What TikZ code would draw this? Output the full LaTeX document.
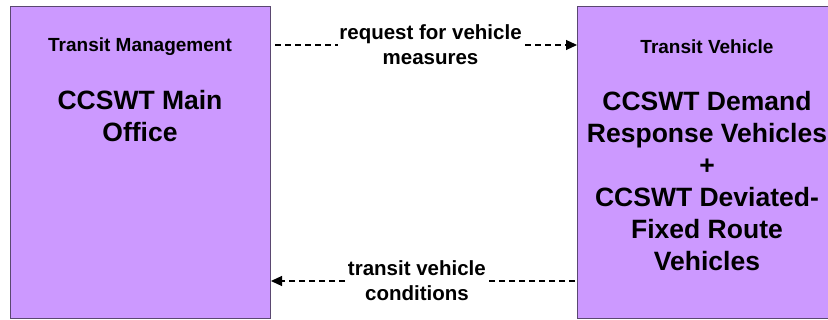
\documentclass[tikz,border=0pt]{standalone}
\usepackage{fontspec}
\setmainfont{Liberation Sans}
\usetikzlibrary{arrows.meta}
\definecolor{boxfill}{HTML}{CC99FF}
\definecolor{boxline}{HTML}{5A4870}
\tikzset{
  sysbox/.style={draw=boxline, line width=1pt, fill=boxfill, inner sep=0pt, anchor=north west},
  small/.style={font=\bfseries\fontsize{19}{22}\selectfont, align=center, inner sep=0pt},
  big/.style={font=\bfseries\fontsize{26.5}{32}\selectfont, align=center, inner sep=0pt},
  flowlbl/.style={font=\bfseries\fontsize{20.5}{25}\selectfont, align=center, fill=white, inner sep=1.5pt},
  flow/.style={dashed, dash pattern=on 6pt off 4pt, line width=1.1pt, -{Triangle[length=11pt,width=10pt]}}
}
\begin{document}
\begin{tikzpicture}[x=1pt,y=-1pt]
\useasboundingbox (0,0) rectangle (828,320);
\clip (0,0) rectangle (828,320);
\node[sysbox, minimum width=260pt, minimum height=312pt] (L) at (10,6) {};
\node[sysbox, minimum width=262pt, minimum height=312pt] (R) at (577,6) {};
\node[small] (Lt) at (140,47) {Transit Management};
\node[big] (Lm) at (140,116) {CCSWT Main\\Office};
\node[small] (Rt) at (707,47) {Transit Vehicle};
\node[big] (Rm) at (707,181) {CCSWT Demand\\Response Vehicles\\+\\CCSWT Deviated-\\Fixed Route\\Vehicles};
\coordinate (a1) at (275,45);
\coordinate (b1) at (575,281);
\draw[flow] (a1) -- node[flowlbl, pos=0.515] (lab1) {request for vehicle\\measures} (R.west |- a1);
\draw[flow] (b1) -- node[flowlbl, pos=0.52] (lab2) {transit vehicle\\conditions} (L.east |- b1);
\end{tikzpicture}
\end{document}
